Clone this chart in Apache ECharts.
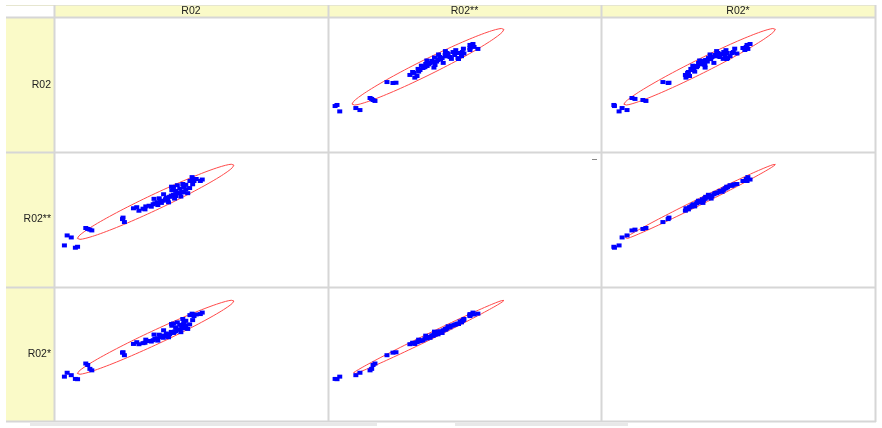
<!DOCTYPE html>
<html><head><meta charset="utf-8">
<script src="https://cdn.jsdelivr.net/npm/echarts@6/dist/echarts.min.js"></script>
<style>html,body{margin:0;padding:0;background:#fff}#c{width:882px;height:428px}</style>
</head><body><div id="c"></div><script>
// Variables of the scatter-plot matrix
const variables = ['R02', 'R02**', 'R02*'];
// Observations (one value per observation and variable)
const r02   = [8.6, 7.8, 3.8, 6.3, 4.8, 13.8, 13.1, 12.3, 11.6, 25.7, 25.0, 25.2, 31.0, 32.5, 30.2, 33.2, 34.7, 36.2, 35.5, 37.7, 36.8, 39.9, 38.9, 40.7, 38.4, 41.5, 42.2, 41.0, 43.6, 44.4, 42.8, 45.9, 44.9, 47.4, 44.4, 46.6, 48.1, 45.9, 47.4, 43.6, 47.4, 48.1, 47.0, 42.9, 51.1, 53.4, 54.1, 49.6, 50.4, 51.9,
               29.0, 33.5, 37.9, 36.5, 41.8, 40.0, 46.3, 43.0, 48.8, 45.0, 49.5, 50.6, 39.2, 44.0];
const r02ss = [3.3, 2.6, 4.3, 10.2, 11.7, 15.4, 16.0, 16.5, 17.2, 21.6, 23.8, 24.9, 30.0, 31.5, 32.6, 31.0, 33.7, 34.8, 33.0, 36.3, 35.5, 37.4, 36.9, 38.5, 39.2, 38.0, 40.3, 39.8, 41.8, 40.9, 41.2, 42.9, 43.2, 43.6, 44.7, 44.0, 45.8, 46.4, 47.3, 47.6, 48.4, 49.2, 49.8, 47.8, 52.0, 52.0, 53.1, 52.0, 54.9, 53.5,
               31.8, 33.2, 34.2, 38.8, 36.2, 42.2, 40.5, 45.2, 43.0, 48.9, 46.8, 49.6, 35.8, 39.0];
const r02s  = [4.7, 4.9, 6.6, 7.7, 9.5, 11.3, 12.4, 15.3, 16.4, 22.6, 24.5, 24.8, 30.8, 31.6, 32.3, 31.9, 33.2, 33.8, 32.8, 35.2, 34.9, 35.6, 36.2, 37.0, 37.9, 37.4, 38.2, 38.8, 39.2, 40.5, 40.0, 41.6, 41.9, 42.7, 43.4, 44.2, 44.8, 45.3, 46.0, 46.2, 47.8, 48.3, 49.6, 45.9, 51.8, 53.3, 54.4, 52.5, 53.6, 53.0,
               31.0, 34.2, 33.5, 38.0, 36.0, 41.2, 39.8, 44.6, 42.2, 47.1, 45.6, 48.8, 37.2, 40.2];
const columns = [r02, r02ss, r02s];
// Axis ranges used in every panel
const xRange = [0, 100];
const yRange = [-26.5, 73.5];
// Ellipse scale (in standard deviations)
const ellipseK = 2.15;

// Layout
const colLeft = [54, 328, 601], colWidth = [274, 273, 274];
const rowTop = [18, 152, 287], rowHeight = [134, 135, 134];

function ellipse(xs, ys, k) {
  const n = xs.length;
  const mx = xs.reduce((a, b) => a + b, 0) / n;
  const my = ys.reduce((a, b) => a + b, 0) / n;
  let sxx = 0, syy = 0, sxy = 0;
  for (let i = 0; i < n; i++) {
    sxx += (xs[i] - mx) ** 2; syy += (ys[i] - my) ** 2; sxy += (xs[i] - mx) * (ys[i] - my);
  }
  sxx /= n - 1; syy /= n - 1; sxy /= n - 1;
  const a = Math.sqrt(sxx), b = sxy / a, c = Math.sqrt(Math.max(syy - b * b, 0));
  const pts = [];
  for (let i = 0; i <= 120; i++) {
    const t = i / 120 * 2 * Math.PI;
    pts.push([mx + k * a * Math.cos(t), my + k * (b * Math.cos(t) + c * Math.sin(t))]);
  }
  return pts;
}

const grid = [], xAxis = [], yAxis = [], series = [];
let gi = 0;
for (let r = 0; r < 3; r++) {
  for (let c = 0; c < 3; c++) {
    grid.push({ left: colLeft[c], top: rowTop[r], width: colWidth[c], height: rowHeight[r], show: false });
    xAxis.push({ gridIndex: gi, type: 'value', min: xRange[0], max: xRange[1], show: false });
    yAxis.push({ gridIndex: gi, type: 'value', min: yRange[0], max: yRange[1], show: false });
    if (r !== c) {
      const xs = columns[c], ys = columns[r];
      series.push({
        type: 'line', xAxisIndex: gi, yAxisIndex: gi, data: ellipse(xs, ys, ellipseK),
        showSymbol: false, symbol: 'none', silent: true, z: 2,
        lineStyle: { color: '#ff4a4a', width: 1 }
      });
      series.push({
        type: 'scatter', xAxisIndex: gi, yAxisIndex: gi,
        data: xs.map((v, i) => [v, ys[i]]),
        symbol: 'rect', symbolSize: [5, 4], z: 3,
        itemStyle: { color: '#0000ff', opacity: 1 }
      });
    }
    gi++;
  }
}

const yellow = '#fafac8', lineC = '#d6d6d6';
const graphic = [
  { type: 'rect', shape: { x: 54, y: 5, width: 821, height: 12 }, style: { fill: yellow } },
  { type: 'rect', shape: { x: 6, y: 18, width: 48, height: 403 }, style: { fill: yellow } },
  { type: 'line', shape: { x1: 6, y1: 5.5, x2: 876, y2: 5.5 }, style: { stroke: '#e6e6d0', lineWidth: 1 } },
  { type: 'line', shape: { x1: 6, y1: 17.5, x2: 876, y2: 17.5 }, style: { stroke: lineC, lineWidth: 2 } },
  { type: 'line', shape: { x1: 6, y1: 152.5, x2: 876, y2: 152.5 }, style: { stroke: lineC, lineWidth: 2 } },
  { type: 'line', shape: { x1: 6, y1: 287.5, x2: 876, y2: 287.5 }, style: { stroke: lineC, lineWidth: 2 } },
  { type: 'line', shape: { x1: 6, y1: 421.5, x2: 876, y2: 421.5 }, style: { stroke: lineC, lineWidth: 2 } },
  { type: 'line', shape: { x1: 54.5, y1: 5, x2: 54.5, y2: 422 }, style: { stroke: lineC, lineWidth: 2 } },
  { type: 'line', shape: { x1: 328.5, y1: 5, x2: 328.5, y2: 422 }, style: { stroke: lineC, lineWidth: 2 } },
  { type: 'line', shape: { x1: 601.5, y1: 5, x2: 601.5, y2: 422 }, style: { stroke: lineC, lineWidth: 2 } },
  { type: 'line', shape: { x1: 875.5, y1: 5, x2: 875.5, y2: 422 }, style: { stroke: lineC, lineWidth: 2 } },
  { type: 'rect', shape: { x: 30, y: 423, width: 347, height: 3 }, style: { fill: '#e8e8e8' } },
  { type: 'rect', shape: { x: 455, y: 423, width: 173, height: 3 }, style: { fill: '#e8e8e8' } },
  { type: 'line', shape: { x1: 592, y1: 159.5, x2: 597, y2: 159.5 }, style: { stroke: '#888', lineWidth: 1 } }
];
variables.forEach((v, i) => {
  graphic.push({ type: 'text', x: colLeft[i] + colWidth[i] / 2, y: 11.5,
    style: { text: v, fill: '#222', font: '10.5px Arial, "Liberation Sans", sans-serif', textAlign: 'center', textVerticalAlign: 'middle' } });
  graphic.push({ type: 'text', x: 51, y: rowTop[i] + rowHeight[i] / 2,
    style: { text: v, fill: '#222', font: '10.5px Arial, "Liberation Sans", sans-serif', textAlign: 'right', textVerticalAlign: 'middle' } });
});

const chart = echarts.init(document.getElementById('c'), null, { renderer: 'canvas' });
chart.setOption({
  animation: false,
  backgroundColor: '#fff',
  grid, xAxis, yAxis, series, graphic
});
</script></body></html>
